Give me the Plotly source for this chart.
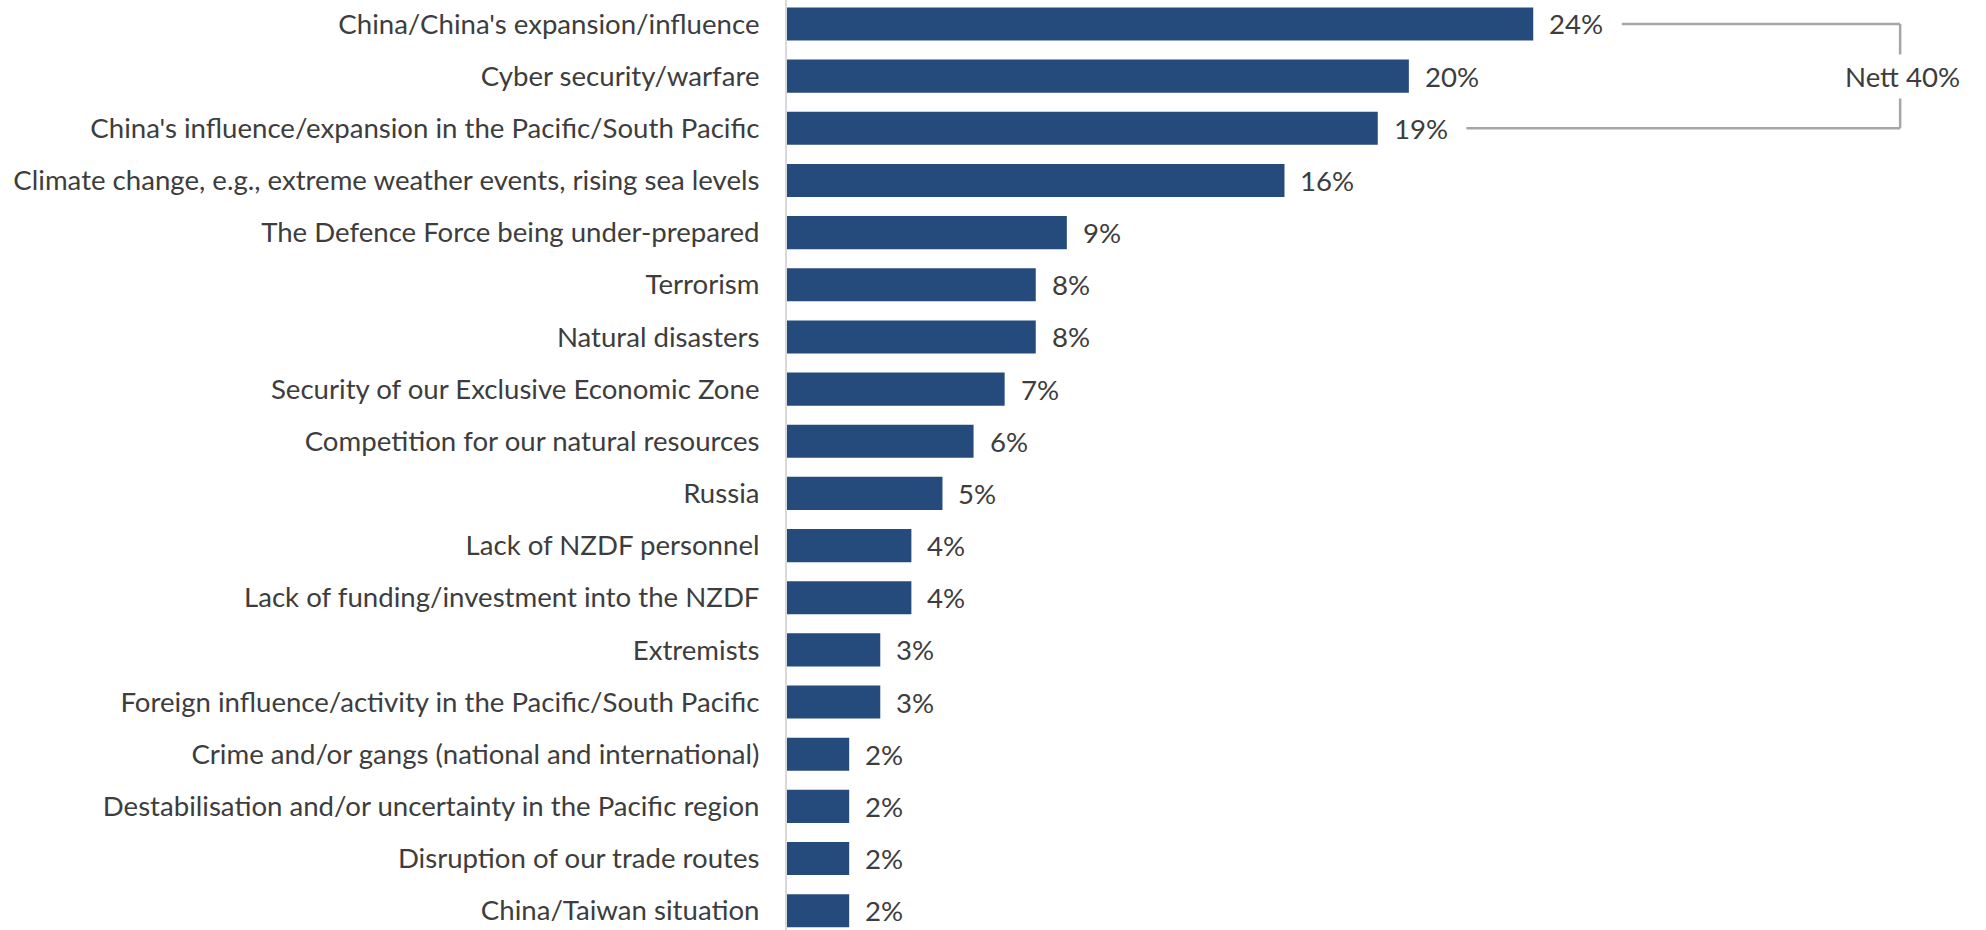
import plotly.graph_objects as go

# Survey responses: perceived security threats (share of respondents, %)
categories = [
    "China/China's expansion/influence",
    "Cyber security/warfare",
    "China's influence/expansion in the Pacific/South Pacific",
    "Climate change, e.g., extreme weather events, rising sea levels",
    "The Defence Force being under-prepared",
    "Terrorism",
    "Natural disasters",
    "Security of our Exclusive Economic Zone",
    "Competition for our natural resources",
    "Russia",
    "Lack of NZDF personnel",
    "Lack of funding/investment into the NZDF",
    "Extremists",
    "Foreign influence/activity in the Pacific/South Pacific",
    "Crime and/or gangs (national and international)",
    "Destabilisation and/or uncertainty in the Pacific region",
    "Disruption of our trade routes",
    "China/Taiwan situation",
]
values = [24, 20, 19, 16, 9, 8, 8, 7, 6, 5, 4, 4, 3, 3, 2, 2, 2, 2]

# Combined China-related figure shown by the bracket
nett_members = [0, 2]
nett_label = "Nett"
nett_value = 40

BAR_COLOR = "#254a7c"
TEXT_COLOR = "#3d3d3d"
FONT = "Lato, 'Open Sans', sans-serif"
FONT_SIZE = 27.6

fig = go.Figure(
    go.Bar(
        x=values,
        y=categories,
        orientation="h",
        width=0.635,
        marker=dict(color=BAR_COLOR, line=dict(width=0)),
        hoverinfo="skip",
    )
)

# Value labels to the right of each bar
for cat, v in zip(categories, values):
    fig.add_annotation(
        x=v, y=cat, text=f"{v}%", showarrow=False,
        xanchor="left", yanchor="middle", xshift=14,
        font=dict(family=FONT, size=FONT_SIZE, color=TEXT_COLOR),
    )

# Bracket grouping the two China items
bracket_x = 35.8
line_style = dict(color="#a6a6a6", width=2.5)
top_cat, bot_cat = categories[nett_members[0]], categories[nett_members[1]]
for idx in nett_members:
    fig.add_shape(
        type="line", xref="x", yref="y",
        x0=values[idx] + 2.85, x1=bracket_x,
        y0=categories[idx], y1=categories[idx],
        line=line_style,
    )
fig.add_shape(
    type="line", xref="x", yref="y",
    x0=bracket_x, x1=bracket_x, y0=top_cat, y1=bot_cat,
    line=line_style,
)
fig.add_annotation(
    x=bracket_x, y=categories[1], text=f"{nett_label} {nett_value}%",
    showarrow=False, xanchor="center", yanchor="middle", xshift=2,
    bgcolor="white", borderpad=5,
    font=dict(family=FONT, size=FONT_SIZE, color=TEXT_COLOR),
)

n = len(categories)
fig.update_layout(
    width=1986, height=930,
    margin=dict(l=787, r=33, t=0, b=0),
    paper_bgcolor="white", plot_bgcolor="white",
    showlegend=False,
    font=dict(family=FONT, size=FONT_SIZE, color=TEXT_COLOR),
    xaxis=dict(
        range=[0, 37.5], showgrid=False, zeroline=False,
        showticklabels=False, showline=False, fixedrange=True,
    ),
    yaxis=dict(
        type="category", categoryorder="array", categoryarray=categories,
        range=[n - 1 + 0.37, -0.46],
        showgrid=False, zeroline=False, ticks="",
        showline=True, linecolor="#d9d9d9", linewidth=2,
        ticklabelstandoff=20,
        tickfont=dict(family=FONT, size=FONT_SIZE, color=TEXT_COLOR),
    ),
)

fig.write_html("out.html")
